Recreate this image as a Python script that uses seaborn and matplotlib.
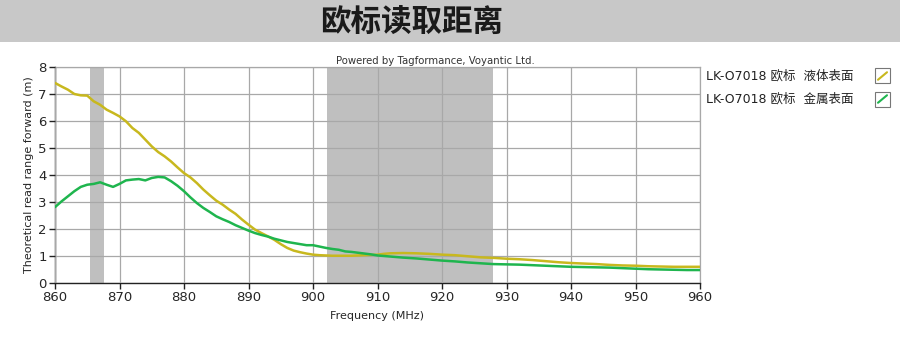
import pandas as pd
import matplotlib.pyplot as plt
import seaborn as sns
from matplotlib.patches import Rectangle
from matplotlib.lines import Line2D

# Datos
freq = list(range(860, 912)) + list(range(912, 962, 2))

liquid = [7.41, 7.28, 7.16, 7.00, 6.95, 6.94, 6.73, 6.60, 6.42, 6.30,
          6.17, 5.99, 5.74, 5.56, 5.31, 5.06, 4.85, 4.69, 4.50, 4.28,
          4.07, 3.91, 3.70, 3.46, 3.25, 3.05, 2.90, 2.72, 2.56, 2.35,
          2.16, 1.98, 1.85, 1.73, 1.60, 1.44, 1.30, 1.20, 1.14, 1.09,
          1.05, 1.03, 1.02, 1.01, 1.01, 1.01, 1.01, 1.02, 1.03, 1.04,
          1.05, 1.08,
          1.10, 1.11, 1.10, 1.08, 1.05, 1.03, 0.99, 0.95, 0.93, 0.90,
          0.88, 0.85, 0.81, 0.77, 0.74, 0.72, 0.70, 0.67, 0.65, 0.64,
          0.62, 0.61, 0.60, 0.60, 0.60]

metal = [2.81, 3.02, 3.21, 3.40, 3.56, 3.64, 3.67, 3.73, 3.64, 3.56,
         3.67, 3.80, 3.83, 3.85, 3.80, 3.89, 3.93, 3.91, 3.77, 3.60,
         3.40, 3.17, 2.96, 2.78, 2.63, 2.47, 2.36, 2.26, 2.14, 2.04,
         1.94, 1.85, 1.78, 1.72, 1.64, 1.58, 1.52, 1.48, 1.44, 1.40,
         1.40, 1.35, 1.30, 1.26, 1.23, 1.17, 1.15, 1.12, 1.09, 1.06,
         1.02, 1.00,
         0.98, 0.94, 0.91, 0.87, 0.83, 0.80, 0.76, 0.73, 0.70, 0.69,
         0.68, 0.66, 0.64, 0.62, 0.60, 0.59, 0.58, 0.57, 0.55, 0.53,
         0.51, 0.50, 0.49, 0.48, 0.48]

series_names = ['LK-O7018 欧标  液体表面', 'LK-O7018 欧标  金属表面']
series_colors = ['#c8b81e', '#1fb54e']
bands = [(865.5, 867.6), (902.1, 927.9)]

sns.set_style('white')
plt.rcParams['font.family'] = ['DejaVu Sans', 'Noto Sans CJK SC']

df = pd.concat([
    pd.DataFrame({'freq': freq, 'range': liquid, 'tag': series_names[0]}),
    pd.DataFrame({'freq': freq, 'range': metal, 'tag': series_names[1]}),
])

fig = plt.figure(figsize=(9, 3.55), dpi=100)

# Banda del título
fig.patches.append(Rectangle((0, 1 - 42 / 355), 1, 42 / 355, transform=fig.transFigure,
                             facecolor='#c8c8c8', edgecolor='none', zorder=0))
fig.text(0.457, 1 - 23 / 355, '欧标读取距离', ha='center', va='center', fontsize=22,
         fontweight='bold', family=['Noto Sans CJK SC'], color='#1a1a1a')

ax = fig.add_axes([55 / 900, 1 - 283 / 355, 645 / 900, 216 / 355])

for lo, hi in bands:
    ax.axvspan(lo, hi, color='#bfbfbf', zorder=0.5, lw=0)

sns.lineplot(data=df, x='freq', y='range', hue='tag', palette=series_colors, ax=ax,
             linewidth=1.8, legend=False, zorder=3)

ax.set_xlim(860, 960)
ax.set_ylim(0, 8)
ax.set_xticks(range(860, 961, 10))
ax.set_yticks(range(0, 9))
ax.grid(True, color='#a8a8a8', linewidth=0.9)
ax.set_axisbelow(False)
for s in ['top', 'right']:
    ax.spines[s].set_color('#a8a8a8')
    ax.spines[s].set_linewidth(0.9)
for s in ['left', 'bottom']:
    ax.spines[s].set_color('#222222')
    ax.spines[s].set_linewidth(1.0)
ax.tick_params(axis='both', direction='out', length=4, width=1, color='#222222',
               labelsize=9.5, pad=2, bottom=True, left=True)
ax.set_xlabel('Frequency (MHz)', fontsize=8, labelpad=5)
ax.set_ylabel('Theoretical read range forward (m)', fontsize=8, labelpad=3)

ax.text(0.59, 1.006, 'Powered by Tagformance, Voyantic Ltd.', transform=ax.transAxes,
        ha='center', va='bottom', fontsize=7.3, color='#333333')

# Leyenda a la derecha
for i, (name, col) in enumerate(zip(series_names, series_colors)):
    yc = 1 - (76 + 23 * i) / 355
    fig.text(706 / 900, yc, name, ha='left', va='center', fontsize=9, color='#222222',
             family=['DejaVu Sans', 'Noto Sans CJK SC'])
    x0, y0, w, h = 875 / 900, yc - 7.5 / 355, 15 / 900, 15 / 355
    fig.patches.append(Rectangle((x0, y0), w, h, transform=fig.transFigure,
                                 facecolor='white', edgecolor='#777777', linewidth=0.8))
    fig.lines.append(Line2D([x0 + 0.2 * w, x0 + 0.8 * w], [y0 + 0.25 * h, y0 + 0.75 * h],
                            transform=fig.transFigure, color=col, linewidth=1.5))

fig.savefig('out.png', dpi=100)
